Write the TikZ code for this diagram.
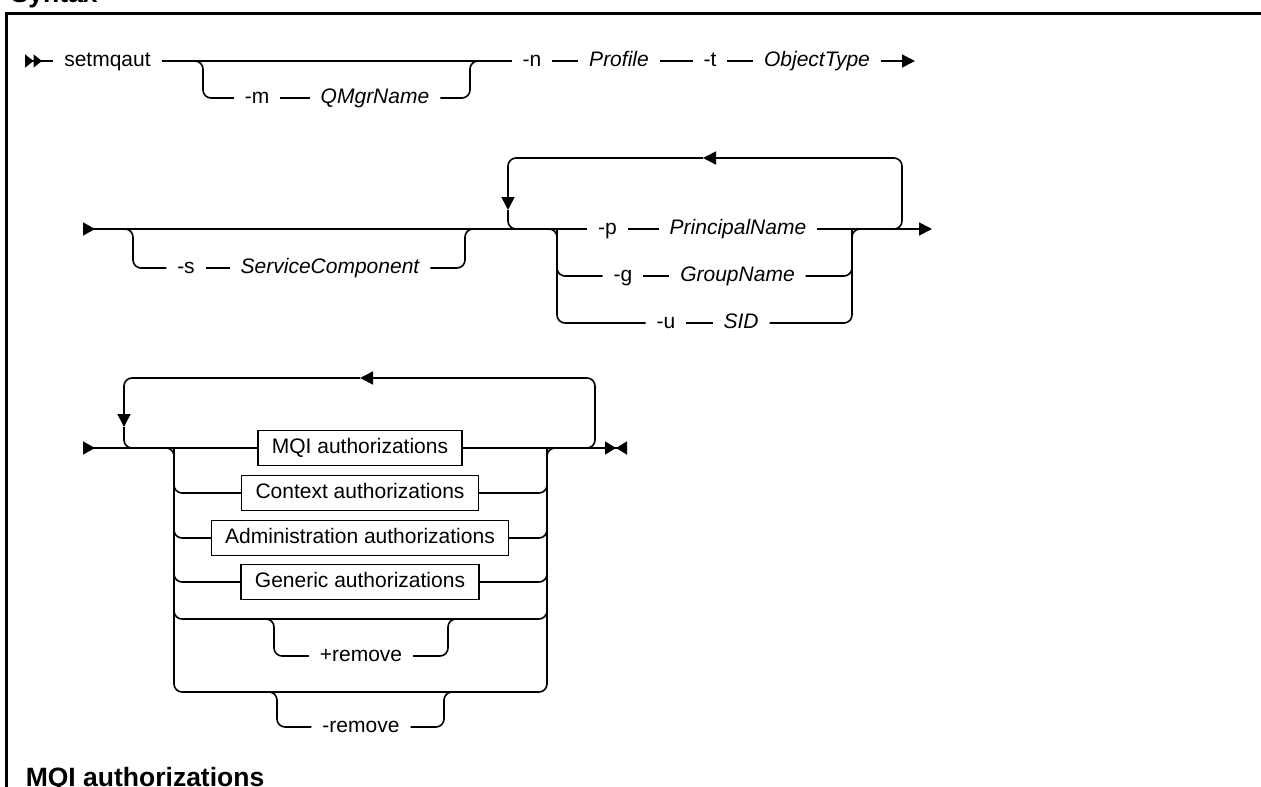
\documentclass[tikz,border=0pt]{standalone}
\usepackage{fontspec}
\setmainfont{Liberation Sans}
\usepackage{tikz}
\usetikzlibrary{arrows.meta}
\newcommand{\railfont}{\fontsize{21}{25}\selectfont}
\newcommand{\headfont}{\fontsize{26.5}{30}\selectfont\bfseries}

\begin{document}
\begin{tikzpicture}[
    x=1pt, y=-1pt, line width=1.6pt, rounded corners=8pt,
    >={Triangle[length=13pt, width=13pt]},
    kw/.style={font=\railfont, inner xsep=11pt, inner ysep=0pt, outer sep=0pt, text height=15pt, text depth=4pt},
    var/.style={kw, font=\railfont\itshape},
    frag/.style={kw, draw, sharp corners, line width=1.3pt, inner xsep=14pt, minimum height=35pt},
    head/.style={font=\headfont, anchor=base west, inner sep=0pt},
    railin/.style={arrows={Triangle[reversed, length=12pt, width=13pt]-}},
    railin2/.style={arrows={Triangle[reversed, length=8.5pt, width=13pt]Triangle[reversed, length=8.5pt, width=13pt]-}},
    railstop/.style={arrows={-Triangle[length=11pt, width=13pt]Triangle[length=11pt, width=13pt, reversed]}}
]
    \useasboundingbox (0,0) rectangle (1261,787);
    \node[head] (syntax) at (10,2) {Syntax};
    \node[head] (mqihead) at (25,786) {MQI authorizations};
    \draw[sharp corners, line width=2.5pt] (6.5,800) -- (6.5,13.5) -- (1275,13.5);

    % first line
    \node[kw] (setmqaut) at (107.5,61) {setmqaut};
    \node[kw] (m) at (257,98) {-m};
    \node[var] (qmgr) at (375,98) {QMgrName};
    \node[kw] (n) at (532,61) {-n};
    \node[var] (profile) at (619,61) {Profile};
    \node[kw] (t) at (710,61) {-t};
    \node[var] (objtype) at (817,61) {ObjectType};
    \coordinate (in1) at (25,61);
    \coordinate (out1) at (915,61);
    \coordinate (m1) at (203,61);
    \coordinate (m2) at (470,61);

    \draw[railin2] (in1) -- (setmqaut.west);
    \draw (setmqaut.east) -- (n.west);
    \draw ([xshift=-12pt]m1) -- (m1) |- (m.west);
    \draw (m.east) -- (qmgr.west);
    \draw (qmgr.east) -| (m2) -- ++(12,0);
    \draw (n.east) -- (profile.west);
    \draw (profile.east) -- (t.west);
    \draw (t.east) -- (objtype.west);
    \draw[->] (objtype.east) -- (out1);

    % second line
    \node[kw] (s) at (186,268) {-s};
    \node[var] (svc) at (330,268) {ServiceComponent};
    \node[kw] (p) at (607.5,229) {-p};
    \node[var] (principal) at (738,229) {PrincipalName};
    \node[kw] (g) at (623,276) {-g};
    \node[var] (group) at (737.5,276) {GroupName};
    \node[kw] (u) at (666,323) {-u};
    \node[var] (sid) at (741,323) {SID};
    \coordinate (in2) at (83,229);
    \coordinate (out2) at (932,229);
    \coordinate (s1) at (133,229);
    \coordinate (s2) at (465,229);
    \coordinate (c1) at (557,229);
    \coordinate (c2) at (852,229);
    \coordinate (lpA) at (508,158);
    \coordinate (lpB) at (902,158);
    \coordinate (lpM) at (703,158);
    \coordinate (lpD) at (508,210);

    \draw[railin] (in2) -- (p.west);
    \draw ([xshift=-12pt]s1) -- (s1) |- (s.west);
    \draw (s.east) -- (svc.west);
    \draw (svc.east) -| (s2) -- ++(12,0);
    \draw[->] ([xshift=-18pt]lpB |- in2) -- (lpB |- in2) -- (lpB) -- (lpM);
    \draw[->] (lpM) -- (lpA) -- (lpD);
    \draw (lpD) -- (lpA |- in2) -- ++(16,0);
    \draw ([xshift=-12pt]c1) -- (c1) |- (u.west);
    \draw (c1) |- (g.west);
    \draw (p.east) -- (principal.west);
    \draw (g.east) -- (group.west);
    \draw (u.east) -- (sid.west);
    \draw[->] (principal.east) -- (out2);
    \draw (group.east) -| (c2);
    \draw (sid.east) -| (c2) -- ++(14,0);

    % third line
    \node[frag] (mqi) at (360,448) {MQI authorizations};
    \node[frag] (context) at (360,493) {Context authorizations};
    \node[frag] (admin) at (360,538) {Administration authorizations};
    \node[frag] (generic) at (360,582) {Generic authorizations};
    \node[kw] (plus) at (361,656) {+remove};
    \node[kw] (minus) at (361,727) {-remove};
    \coordinate (in3) at (83,448);
    \coordinate (out3) at (627,448);
    \coordinate (k1) at (174,448);
    \coordinate (k2) at (547,448);
    \coordinate (k3) at (174,692);
    \coordinate (k4) at (547,692);
    \coordinate (b2) at (547,619);
    \coordinate (pl1) at (274,619);
    \coordinate (pl2) at (448,619);
    \coordinate (mi1) at (277,692);
    \coordinate (mi2) at (444,692);
    \coordinate (lqA) at (124,378);
    \coordinate (lqB) at (595,378);
    \coordinate (lqM) at (360,378);
    \coordinate (lqD) at (124,427);

    \draw[railin] (in3) -- (mqi.west);
    \draw[railstop] (mqi.east) -- (out3);
    \draw ([xshift=-12pt]k1) -- (k1) -- (k3) -- (k4) -- (k2) -- ++(14,0);
    \draw (k1) |- (context.west);
    \draw (context.east) -| (k2);
    \draw (k1) |- (admin.west);
    \draw (admin.east) -| (k2);
    \draw (k1) |- (generic.west);
    \draw (generic.east) -| (k2);
    \draw (k1) |- (b2) -- (k2);
    \draw ([xshift=-10pt]pl1) -- (pl1) |- (plus.west);
    \draw (plus.east) -| (pl2) -- ++(10,0);
    \draw ([xshift=-10pt]mi1) -- (mi1) |- (minus.west);
    \draw (minus.east) -| (mi2) -- ++(10,0);
    \draw[->] ([xshift=-14pt]lqB |- in3) -- (lqB |- in3) -- (lqB) -- (lqM);
    \draw[->] (lqM) -- (lqA) -- (lqD);
    \draw (lqD) -- (lqA |- in3) -- ++(16,0);
\end{tikzpicture}
\end{document}
